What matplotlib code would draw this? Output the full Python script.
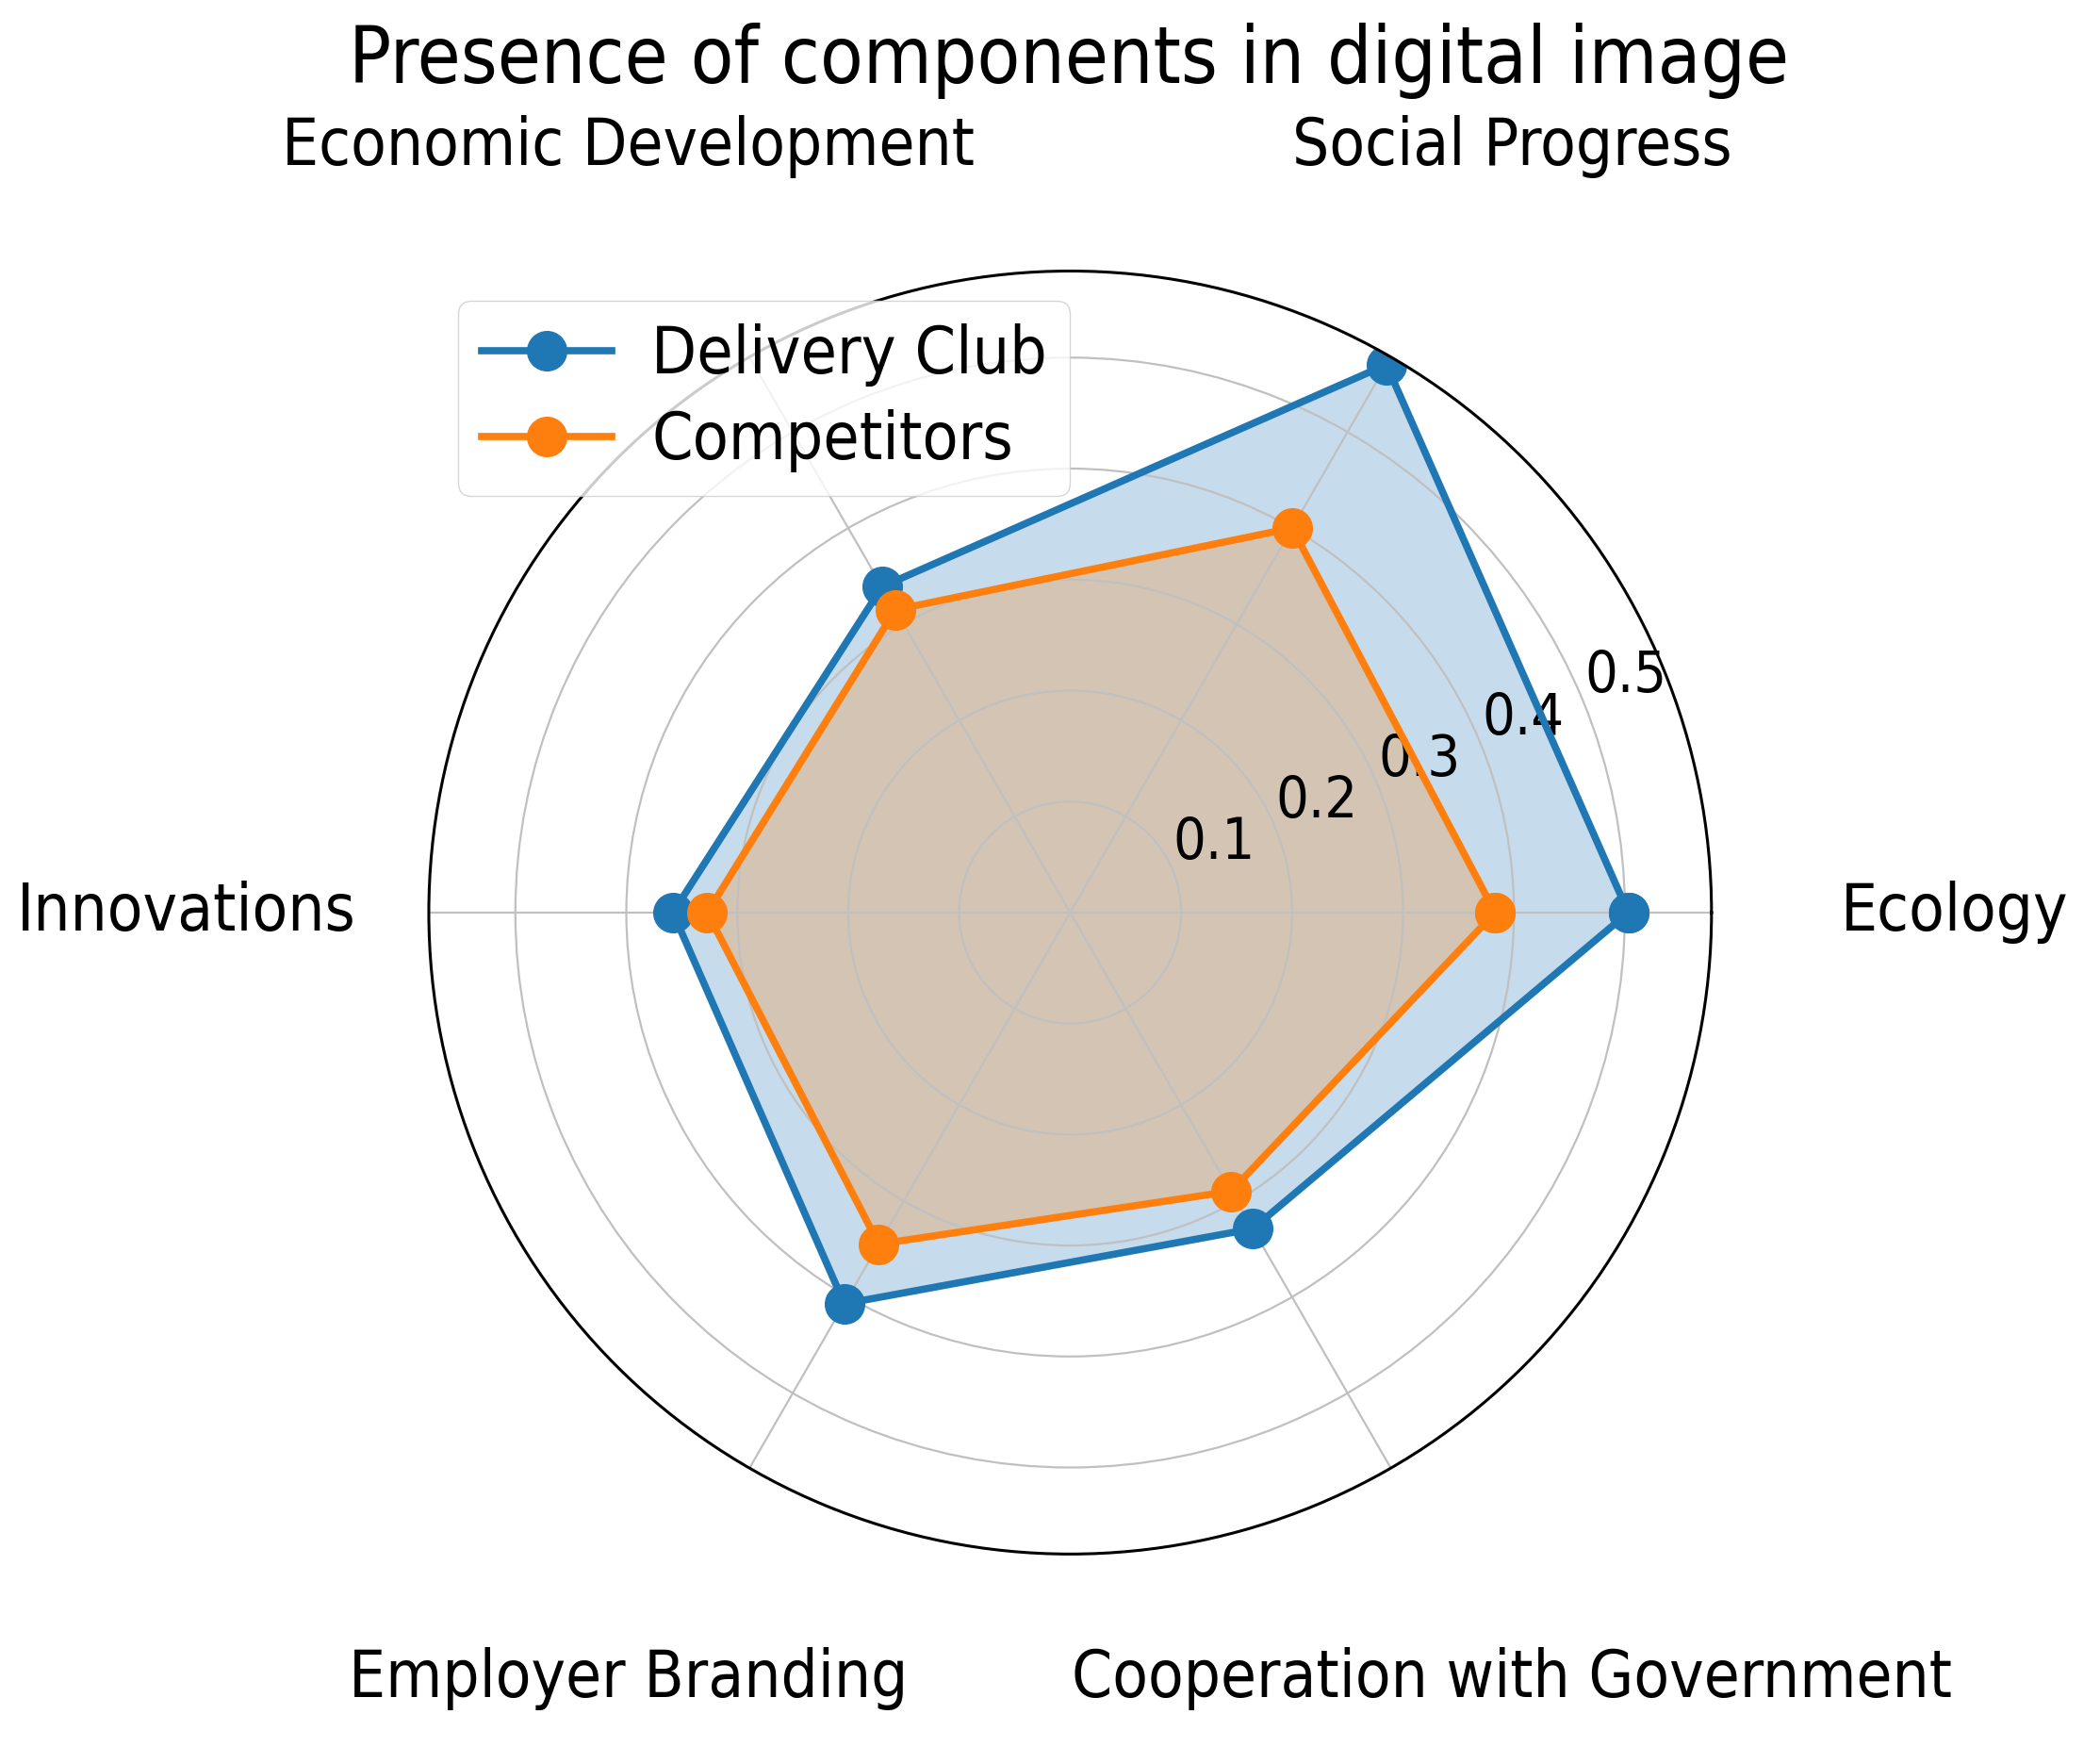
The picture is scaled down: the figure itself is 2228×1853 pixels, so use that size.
import numpy as np
import matplotlib
matplotlib.use("Agg")
import matplotlib.pyplot as plt

categories = ["Ecology", "Social Progress", "Economic Development", "Innovations",
              "Employer Branding", "Cooperation with Government"]
delivery_club = [0.503, 0.570, 0.339, 0.358, 0.407, 0.329]
competitors = [0.383, 0.400, 0.315, 0.327, 0.345, 0.290]
rticks = [0.1, 0.2, 0.3, 0.4, 0.5]
series_names = ["Delivery Club", "Competitors"]
title = "Presence of components in digital image"

plt.rcParams['font.family'] = ['DejaVu Sans']
plt.rcParams['font.stretch'] = 'condensed'

fig = plt.figure(figsize=(22.28, 18.53), dpi=100)
ax = fig.add_axes([0.2042, 0.1104, 0.6108, 0.7345], projection='polar')

n = len(categories)
angles = np.linspace(0, 2 * np.pi, n, endpoint=False)
ang_closed = np.concatenate([angles, angles[:1]])

for vals, name, col in [(delivery_club, series_names[0], '#1f77b4'),
                        (competitors, series_names[1], '#ff7f0e')]:
    v = np.concatenate([vals, vals[:1]])
    ax.plot(ang_closed, v, 'o-', color=col, linewidth=5.5, markersize=30, label=name)
    ax.fill(ang_closed, v, color=col, alpha=0.25)

ax.set_ylim(0, max(delivery_club) + 0.008)
ax.set_xticks(angles)
ax.set_xticklabels(categories, fontsize=49.5)
ax.tick_params(axis='x', pad=175)
ax.set_yticks(rticks)
ax.set_yticklabels([str(t) for t in rticks], fontsize=44)
ax.set_rlabel_position(22.0)
ax.grid(color='#c0c0c0', linewidth=1.6)
ax.spines['polar'].set_linewidth(2.2)

ax.legend(loc='upper left', fontsize=50, borderaxespad=0.45, labelspacing=0.35,
          borderpad=0.35, handlelength=2.0, handletextpad=0.6)
fig.text(0.509, 1 - 88 / 1853, title, ha='center', va='baseline', fontsize=60)

fig.savefig("out.png", dpi=100)
